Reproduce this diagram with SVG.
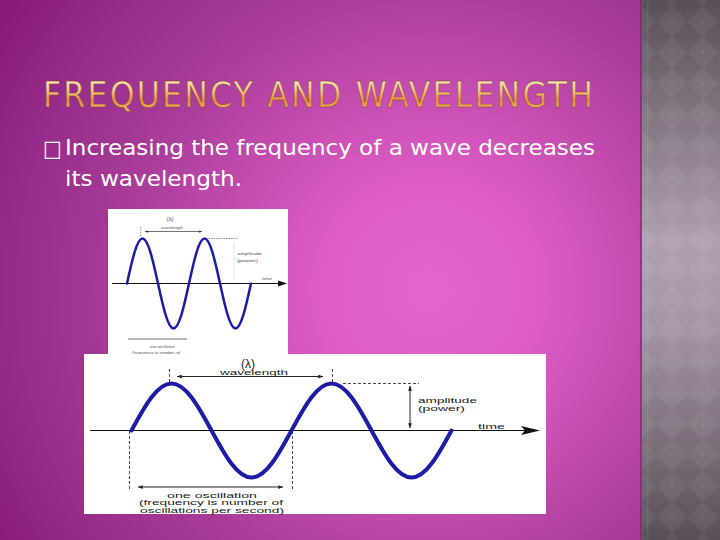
<svg xmlns="http://www.w3.org/2000/svg" width="720" height="540" viewBox="0 0 720 540">
<defs>
  <radialGradient id="bg" cx="430" cy="290" r="520" gradientUnits="userSpaceOnUse">
    <stop offset="0" stop-color="#e466cc"/>
    <stop offset="0.22" stop-color="#dc5cc4"/>
    <stop offset="0.6" stop-color="#a83c98"/>
    <stop offset="0.82" stop-color="#952a88"/>
    <stop offset="1" stop-color="#861874"/>
  </radialGradient>
  <linearGradient id="strip" x1="0" y1="0" x2="0" y2="1">
    <stop offset="0" stop-color="#5c525a"/>
    <stop offset="0.45" stop-color="#b6a6b6"/>
    <stop offset="0.6" stop-color="#ac9cac"/>
    <stop offset="1" stop-color="#5c525a"/>
  </linearGradient>
  <pattern id="diamonds" x="656.5" y="6" width="31" height="31" patternUnits="userSpaceOnUse">
    <rect width="31" height="31" fill="#000" fill-opacity="0.04"/>
    <polygon points="15.5,0 31,15.5 15.5,31 0,15.5" fill="#fff" fill-opacity="0.05"/>
    <path d="M15.5,12.5 V18.5 M12.5,15.5 H18.5" stroke="#fff" stroke-opacity="0.1" stroke-width="0.7"/>
  </pattern>
  <linearGradient id="gold" x1="0" y1="0" x2="0" y2="1">
    <stop offset="0" stop-color="#fff0c8"/>
    <stop offset="0.35" stop-color="#f8d096"/>
    <stop offset="0.65" stop-color="#e68e42"/>
    <stop offset="1" stop-color="#f4c888"/>
  </linearGradient>
  <marker id="ah" viewBox="0 0 8 6" refX="7.5" refY="3" markerWidth="5" markerHeight="4" orient="auto-start-reverse" markerUnits="userSpaceOnUse">
    <path d="M0,0 L8,3 L0,6 Z" fill="#222"/>
  </marker>
  <marker id="ahs" viewBox="0 0 8 6" refX="7.5" refY="3" markerWidth="3" markerHeight="2.4" orient="auto-start-reverse" markerUnits="userSpaceOnUse">
    <path d="M0,0 L8,3 L0,6 Z" fill="#333"/>
  </marker>
  <style>
    .wave{fill:none;stroke:#1c1ca6;stroke-linejoin:round;stroke-linecap:round}
    .axis{stroke:#111;stroke-width:1}
    .dash{stroke:#333;stroke-width:0.9;stroke-dasharray:3 2;fill:none}
    .lbl{font-family:"Liberation Sans",Arial,sans-serif;fill:#222}
    .slbl{font-family:"Liberation Sans",Arial,sans-serif;fill:#555}
    .body{font-family:"DejaVu Sans Condensed","DejaVu Sans","Liberation Sans",sans-serif;font-stretch:condensed;fill:#fff}
  </style>
</defs>

<g id="background">
  <rect x="0" y="0" width="642" height="540" fill="url(#bg)"/>
  <rect x="642" y="0" width="78" height="540" fill="url(#strip)"/>
  <rect x="642" y="0" width="78" height="540" fill="url(#diamonds)"/>
  <rect x="640" y="0" width="2" height="540" fill="#7c2070" opacity="0.6"/>
  <rect x="647" y="0" width="1.5" height="540" fill="#fff" opacity="0.08"/>
</g>

<g id="title">
  <text x="43" y="106.5" font-family="'DejaVu Sans Condensed','DejaVu Sans','Liberation Sans',sans-serif" font-stretch="condensed" font-size="35" textLength="550" lengthAdjust="spacing" fill="url(#gold)" stroke="#7a4020" stroke-opacity="0.55" stroke-width="0.8">FREQUENCY AND WAVELENGTH</text>
</g>

<g id="bullet">
  <text x="43" y="156" class="body" font-size="22">□</text>
  <text x="65" y="154.5" class="body" font-size="22" textLength="530" lengthAdjust="spacingAndGlyphs">Increasing the frequency of a wave decreases</text>
  <text x="65" y="185.5" class="body" font-size="22" textLength="177" lengthAdjust="spacingAndGlyphs">its wavelength.</text>
</g>

<g id="small-figure">
  <rect x="108" y="209" width="180" height="146" fill="#fff"/>
  <line class="axis" x1="112" y1="283.5" x2="280" y2="283.5"/>
  <path d="M278,280.5 L287,283.5 L278,286.5 Z" fill="#111"/>
  <path class="wave" stroke-width="2.5" d="M127,283.5 C132.05,260.45 136.89,238.5 142.5,238.5 C148.11,238.5 152.95,260.45 158,283.5 C163.05,306.55 167.89,328.5 173.5,328.5 C179.11,328.5 183.95,306.55 189,283.5 C194.05,260.45 198.89,238.5 204.5,238.5 C210.11,238.5 214.95,260.45 220,283.5 C225.05,306.55 229.89,328.5 235.5,328.5 C241.11,328.5 245.95,306.55 251,283.5"/>
  <g id="small-connectors">
    <line x1="140.7" y1="227" x2="140.7" y2="237" stroke="#444" stroke-width="0.6" stroke-dasharray="1.5 1"/>
    <line x1="145" y1="231.5" x2="202" y2="231.5" stroke="#333" stroke-width="0.7" marker-start="url(#ahs)" marker-end="url(#ahs)"/>
    <line x1="206" y1="238.5" x2="238" y2="238.5" stroke="#444" stroke-width="0.6" stroke-dasharray="1.5 1"/>
    <line x1="234" y1="242" x2="234" y2="279" stroke="#bbb" stroke-width="0.4"/>
    <line x1="128" y1="339" x2="187" y2="339" stroke="#333" stroke-width="0.7"/>
  </g>
  <text class="slbl" x="170" y="221" font-size="6" text-anchor="middle">(λ)</text>
  <text class="slbl" x="161" y="229" font-size="4" textLength="22" lengthAdjust="spacingAndGlyphs">wavelength</text>
  <text class="slbl" x="237" y="255" font-size="4" textLength="25" lengthAdjust="spacingAndGlyphs">amplitude</text>
  <text class="slbl" x="237" y="262" font-size="4" textLength="21" lengthAdjust="spacingAndGlyphs">(power)</text>
  <text class="slbl" x="262" y="280" font-size="4" textLength="10" lengthAdjust="spacingAndGlyphs">time</text>
  <text class="slbl" x="150" y="348" font-size="4" textLength="25" lengthAdjust="spacingAndGlyphs">one oscillation</text>
  <text class="slbl" x="132" y="353.5" font-size="3.5" textLength="48" lengthAdjust="spacingAndGlyphs">(frequency is number of</text>
</g>

<g id="large-figure">
  <rect x="84" y="354" width="462" height="160" fill="#fff"/>
  <line class="axis" x1="90" y1="430.5" x2="530" y2="430.5"/>
  <path d="M521,426 L540,430.5 L521,435 L525,430.5 Z" fill="#111"/>
  <path class="wave" stroke-width="4" d="M131.5,430.5 C144.54,406.42 157.02,383.5 171.5,383.5 C185.98,383.5 198.46,406.42 211.5,430.5 C224.54,454.58 237.02,477.5 251.5,477.5 C265.98,477.5 278.46,454.58 291.5,430.5 C304.54,406.42 317.02,383.5 331.5,383.5 C345.98,383.5 358.46,406.42 371.5,430.5 C384.54,454.58 397.02,477.5 411.5,477.5 C425.98,477.5 438.46,454.58 451.5,430.5"/>
  <g id="connectors">
    <line class="dash" x1="169.5" y1="369" x2="169.5" y2="383"/>
    <line class="dash" x1="332.5" y1="369" x2="332.5" y2="383"/>
    <line x1="177" y1="376.5" x2="323" y2="376.5" stroke="#222" stroke-width="1" marker-start="url(#ah)" marker-end="url(#ah)"/>
    <line class="dash" x1="343" y1="383.5" x2="419" y2="383.5"/>
    <line x1="410" y1="386" x2="410" y2="428" stroke="#222" stroke-width="1" marker-start="url(#ah)" marker-end="url(#ah)"/>
    <line class="dash" x1="129.5" y1="431" x2="129.5" y2="491"/>
    <line class="dash" x1="292.5" y1="431" x2="292.5" y2="491"/>
    <line x1="138" y1="487" x2="283" y2="487" stroke="#222" stroke-width="1" marker-start="url(#ah)" marker-end="url(#ah)"/>
  </g>
  <text class="lbl" x="248" y="367.5" font-size="12" text-anchor="middle" font-family="'Liberation Serif',serif">(λ)</text>
  <text class="lbl" x="220" y="375" font-size="7" textLength="68" lengthAdjust="spacingAndGlyphs">wavelength</text>
  <text class="lbl" x="418" y="403" font-size="7" textLength="59" lengthAdjust="spacingAndGlyphs">amplitude</text>
  <text class="lbl" x="418" y="410.5" font-size="7" textLength="47" lengthAdjust="spacingAndGlyphs">(power)</text>
  <text class="lbl" x="478" y="429" font-size="7" textLength="27" lengthAdjust="spacingAndGlyphs">time</text>
  <text class="lbl" x="167" y="498" font-size="6.5" textLength="90" lengthAdjust="spacingAndGlyphs">one oscillation</text>
  <text class="lbl" x="139" y="505.3" font-size="6.5" textLength="144" lengthAdjust="spacingAndGlyphs">(frequency is number of</text>
  <text class="lbl" x="140" y="512.6" font-size="6.5" textLength="144" lengthAdjust="spacingAndGlyphs">oscillations per second)</text>
</g>
</svg>
